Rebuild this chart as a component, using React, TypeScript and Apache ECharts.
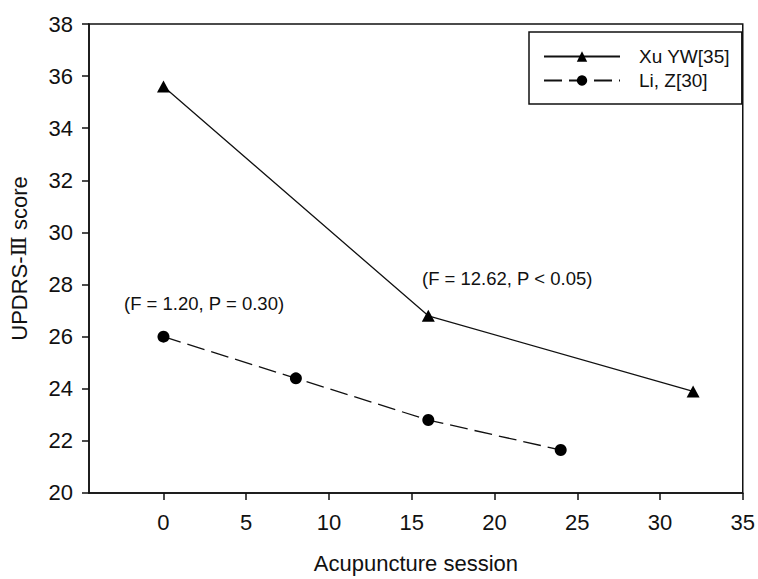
import React, { useEffect, useRef } from "react";
import * as echarts from "echarts";

const xuSessions = [0, 16, 32];
const xuScores = [35.6, 26.8, 23.9];
const liSessions = [0, 8, 16, 24];
const liScores = [26.0, 24.4, 22.8, 21.65];
const xTicks = [0, 5, 10, 15, 20, 25, 30, 35];
const seriesNames = ["Xu YW[35]", "Li, Z[30]"];
const annotations = ["(F = 1.20, P = 0.30)", "(F = 12.62, P < 0.05)"];

const FONT = "'Liberation Sans', Arial, 'Noto Sans CJK SC', sans-serif";

export default function App() {
  const ref = useRef<HTMLDivElement>(null);
  useEffect(() => {
    if (!ref.current) return;
    const chart = echarts.init(ref.current, null, { renderer: "svg" });
    chart.setOption({
      animation: false,
      backgroundColor: "#fff",
      grid: {
        left: 87,
        right: 12,
        top: 24,
        bottom: 82,
        show: true,
        borderColor: "#111",
        borderWidth: 1.5,
        backgroundColor: "transparent",
      },
      legend: {
        orient: "vertical",
        left: 529,
        top: 32,
        data: seriesNames,
        itemWidth: 76,
        itemHeight: 13,
        itemGap: 3,
        padding: [14, 12, 13, 14],
        borderColor: "#111",
        borderWidth: 1.5,
        textStyle: {
          fontFamily: FONT,
          fontSize: 19,
          lineHeight: 21,
          color: "#111",
          padding: [0, 0, 0, 14],
        },
      },
      xAxis: {
        type: "value",
        min: -4.5,
        max: 35,
        name: "Acupuncture session",
        nameLocation: "middle",
        nameGap: 59,
        nameTextStyle: { fontFamily: FONT, fontSize: 22, color: "#111" },
        axisLine: { show: true, onZero: false, lineStyle: { color: "#111", width: 1.5 } },
        axisTick: {
          show: true,
          inside: false,
          length: 7,
          customValues: xTicks,
          lineStyle: { color: "#111", width: 1.5 },
        },
        axisLabel: {
          customValues: xTicks,
          margin: 18,
          fontFamily: FONT,
          fontSize: 22,
          color: "#111",
        },
        splitLine: { show: false },
      },
      yAxis: {
        type: "value",
        min: 20,
        max: 38,
        interval: 2,
        name: "UPDRS-{r|\u2162} score",
        nameLocation: "middle",
        nameGap: 59,
        nameTextStyle: {
          fontFamily: FONT,
          fontSize: 22,
          color: "#111",
          rich: { r: { fontFamily: "'DejaVu Serif', 'Noto Sans CJK SC'", fontSize: 21, color: "#111" } },
        },
        axisLine: { show: true, onZero: false, lineStyle: { color: "#111", width: 1.5 } },
        axisTick: { show: true, inside: false, length: 7, lineStyle: { color: "#111", width: 1.5 } },
        axisLabel: { margin: 16, fontFamily: FONT, fontSize: 22, color: "#111" },
        splitLine: { show: false },
      },
      graphic: [
        {
          type: "text",
          left: 124,
          top: 294,
          style: { text: annotations[0], fontFamily: FONT, fontSize: 18.5, fill: "#111" },
        },
        {
          type: "text",
          left: 422,
          top: 269,
          style: { text: annotations[1], fontFamily: FONT, fontSize: 18.5, fill: "#111" },
        },
      ],
      series: [
        {
          name: seriesNames[0],
          type: "line",
          data: xuSessions.map((x, i) => [x, xuScores[i]]),
          symbol: "triangle",
          symbolSize: [13, 12],
          showAllSymbol: true,
          lineStyle: { color: "#111", width: 1.3, type: "solid" },
          itemStyle: { color: "#000" },
          z: 3,
        },
        {
          name: seriesNames[1],
          type: "line",
          data: liSessions.map((x, i) => [x, liScores[i]]),
          symbol: "circle",
          symbolSize: 12,
          showAllSymbol: true,
          lineStyle: { color: "#111", width: 1.3, type: [18, 7] },
          itemStyle: { color: "#000" },
          z: 3,
        },
      ],
    });
    return () => chart.dispose();
  }, []);
  return (
    <div
      ref={ref}
      style={{ position: "absolute", left: 0, top: 0, width: 758, height: 579, background: "#fff" }}
    />
  );
}
